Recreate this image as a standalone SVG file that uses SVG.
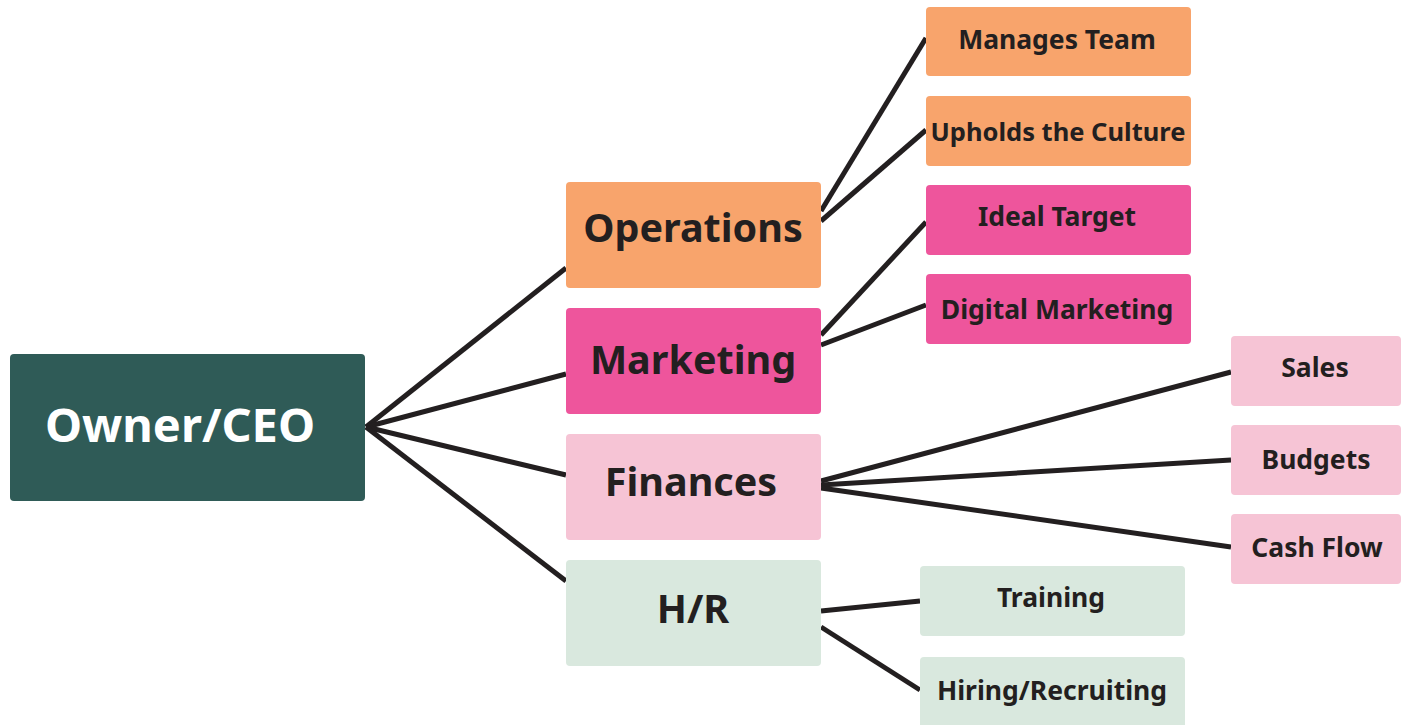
<svg xmlns="http://www.w3.org/2000/svg" width="1406" height="725" viewBox="0 0 1406 725">
<style>
.t{font-family:"Noto Sans","Open Sans","Liberation Sans",sans-serif;font-weight:bold;fill:#231f20;text-anchor:middle;dominant-baseline:central}
.big{font-size:39.5px}
.sm{font-size:26.5px}
.ceo{font-size:47px;fill:#ffffff}
.ops{fill:#f8a46c}.mkt{fill:#ee559c}.fin{fill:#f6c4d5}.hr{fill:#d9e8de}
.ln{stroke:#231f20;stroke-width:5;fill:none;stroke-linecap:butt}
</style>
<rect width="1406" height="725" fill="#ffffff"/>
<g id="connectors">
<line class="ln" x1="366" y1="427" x2="566" y2="268"/>
<line class="ln" x1="366" y1="427" x2="566" y2="374"/>
<line class="ln" x1="366" y1="427" x2="566" y2="475"/>
<line class="ln" x1="366" y1="427" x2="566" y2="581"/>
<line class="ln" x1="821" y1="211" x2="926" y2="38"/>
<line class="ln" x1="821" y1="221" x2="926" y2="130"/>
<line class="ln" x1="821" y1="335" x2="926" y2="222"/>
<line class="ln" x1="821" y1="345" x2="926" y2="305"/>
<line class="ln" x1="821" y1="481" x2="1231" y2="372"/>
<line class="ln" x1="821" y1="485" x2="1231" y2="460"/>
<line class="ln" x1="821" y1="488" x2="1231" y2="547"/>
<line class="ln" x1="821" y1="611" x2="920" y2="601"/>
<line class="ln" x1="821" y1="627" x2="920" y2="690"/>
</g>
<g id="ceo"><rect x="10" y="354" width="355" height="147" rx="4" fill="#2f5b57"/><text class="t ceo" x="180" y="424">Owner/CEO</text></g>
<g id="operations"><rect class="ops" x="566" y="182" width="255" height="106" rx="4"/><text class="t big" x="693" y="227">Operations</text></g>
<g id="marketing"><rect class="mkt" x="566" y="308" width="255" height="106" rx="4"/><text class="t big" x="693" y="359">Marketing</text></g>
<g id="finances"><rect class="fin" x="566" y="434" width="255" height="106" rx="4"/><text class="t big" x="691" y="481">Finances</text></g>
<g id="hr"><rect class="hr" x="566" y="560" width="255" height="106" rx="4"/><text class="t big" x="693" y="608">H/R</text></g>
<g id="manages-team"><rect class="ops" x="926" y="7" width="265" height="69" rx="4"/><text class="t sm" x="1057" y="39">Manages Team</text></g>
<g id="upholds-culture"><rect class="ops" x="926" y="96" width="265" height="70" rx="4"/><text class="t sm" x="1058" y="131" style="font-size:25.5px">Upholds the Culture</text></g>
<g id="ideal-target"><rect class="mkt" x="926" y="185" width="265" height="70" rx="4"/><text class="t sm" x="1057" y="216">Ideal Target</text></g>
<g id="digital-marketing"><rect class="mkt" x="926" y="274" width="265" height="70" rx="4"/><text class="t sm" x="1057" y="309">Digital Marketing</text></g>
<g id="sales"><rect class="fin" x="1231" y="336" width="170" height="70" rx="4"/><text class="t sm" x="1315" y="367">Sales</text></g>
<g id="budgets"><rect class="fin" x="1231" y="425" width="170" height="70" rx="4"/><text class="t sm" x="1316" y="459">Budgets</text></g>
<g id="cash-flow"><rect class="fin" x="1231" y="514" width="170" height="70" rx="4"/><text class="t sm" x="1317" y="547">Cash Flow</text></g>
<g id="training"><rect class="hr" x="920" y="566" width="265" height="70" rx="4"/><text class="t sm" x="1051" y="597">Training</text></g>
<g id="hiring"><rect class="hr" x="920" y="657" width="265" height="75" rx="4"/><text class="t sm" x="1052" y="690">Hiring/Recruiting</text></g>
</svg>
